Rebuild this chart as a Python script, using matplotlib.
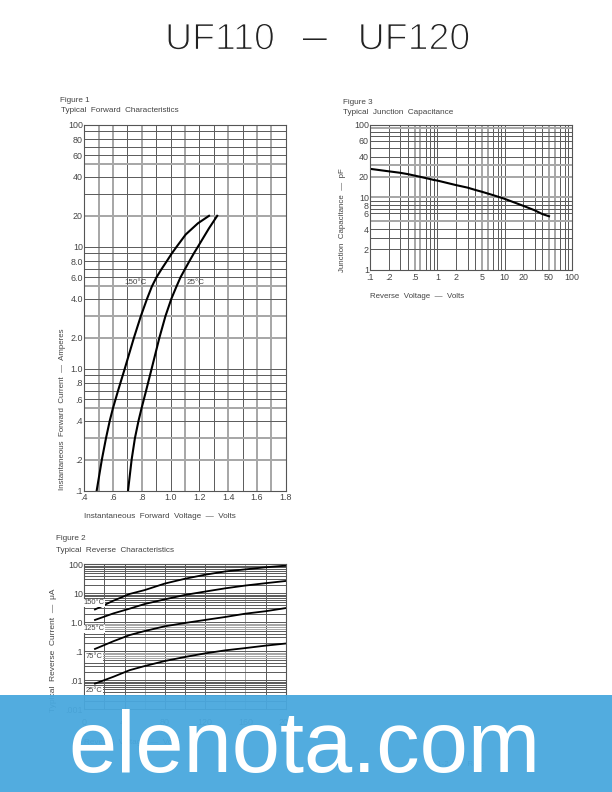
import matplotlib as mpl
mpl.use("Agg")

import numpy as np
import matplotlib.pyplot as plt
import matplotlib.patheffects as pe
from matplotlib.patches import Rectangle
from matplotlib.ticker import NullFormatter

W = 612.0
H = 792.0

# figure 1, forward characteristics
fwd_x_ticks = [.4, .6, .8, 1.0, 1.2, 1.4, 1.6, 1.8]
fwd_x_labels = ['.4', '.6', '.8', '1.0', '1.2', '1.4', '1.6', '1.8']
fwd_x_minor = [.5, .7, .9, 1.1, 1.3, 1.5, 1.7]
fwd_y_ticks = [.1, .2, .4, .6, .8, 1, 2, 4, 6, 8, 10, 20, 40, 60, 80, 100]
fwd_y_labels = ['.1', '.2', '.4', '.6', '.8', '1.0', '2.0', '4.0', '6.0', '8.0',
                '10', '20', '40', '60', '80', '100']
fwd_y_minor = [.3, .5, .7, .9, 3, 5, 7, 9, 30, 50, 70, 90]
# the printed log paper is not a true log, spacing of 1..10 inside a decade
fwd_decade = [0, .255, .432, .574, .676, .751, .818, .884, .948, 1]
cap_x_decade = [0, .279, .448, .562, .662, .746, .826, .896, .945, 1]
cap_y_decade = [0, .285, .44, .562, .68, .78, .84, .894, .95, 1]

v_150 = [.486, .522, .551, .577, .599, .634, .681, .745, .793, .836, .870, .902, .937,
         .974, 1.009, 1.041, 1.105, 1.19, 1.267]
i_150 = [.1, .2, .3, .4, .5, .7, 1, 2, 3, 4, 5, 6, 7, 8, 9, 10, 14, 17.6, 20]
v_25 = [.704, .729, .752, .777, .798, .829, .868, .922, .964, 1.005, 1.041, 1.069, 1.100,
        1.131, 1.162, 1.189, 1.267, 1.324]
i_25 = [.1, .2, .3, .4, .5, .7, 1, 2, 3, 4, 5, 6, 7, 8, 9, 10, 16, 20]

# figure 2, reverse characteristics
rev_x_ticks = [0, 40, 80, 120, 160, 200]
rev_x_minor = [20, 60, 100, 140, 180]
rev_y_ticks = [.001, .01, .1, 1, 10, 100]
rev_y_labels = ['.001', '.01', '.1', '1.0', '10', '100']
rev_v = [10.6, 29, 45, 60, 80, 100, 120, 140, 160, 180, 200]
rev_150 = [2.8, 5.6, 9.5, 13.7, 22, 32, 44, 57, 67, 79, 90]
rev_125 = [1.27, 2.04, 2.96, 4.3, 6.2, 8.8, 12, 15.7, 18.9, 22.7, 27]
rev_75 = [.127, .227, .366, .50, .73, .95, 1.27, 1.61, 1.99, 2.46, 3.1]
rev_25 = [.0077, .0141, .0227, .0312, .0465, .064, .085, .111, .137, .165, .189]

# figure 3, junction capacitance
cap_x_ticks = [.1, .2, .5, 1, 2, 5, 10, 20, 50, 100]
cap_x_labels = ['.1', '.2', '.5', '1', '2', '5', '10', '20', '50', '100']
cap_y_ticks = [1, 2, 4, 6, 8, 10, 20, 40, 60, 100]
cap_y_labels = ['1', '2', '4', '6', '8', '10', '20', '40', '60', '100']
cap_v = [.1, .2, .3, .4, .5, .6, .7, .8, .9, 1, 2, 3, 4, 5, 7, 10, 20, 30, 40, 50]
cap_c = [26.9, 24.7, 23.4, 22.2, 20.9, 19.9, 19.3, 18.8, 18.4, 18.1, 15.9, 14.7, 13.6, 12.7,
         11.1, 9.6, 7.8, 6.7, 5.9, 5.6]

plt.rcParams['font.family'] = ['Liberation Sans', 'DejaVu Sans']
TXT = '#444444'
GRID = '#5e5e5e'
LIGHT = '#a8a8a8'
SMALL = 5.9


def paper_scale(table):
    marks = np.arange(1, 11)

    def forward(v):
        v = np.clip(np.asarray(v, dtype=float), 1e-12, None)
        e = np.floor(np.log10(v))
        return e + np.interp(v / 10.0 ** e, marks, table)

    def inverse(p):
        p = np.asarray(p, dtype=float)
        e = np.floor(p)
        return np.interp(p - e, table, marks) * 10.0 ** e

    return forward, inverse


def decade_lines(low_exp, high_exp, skip=()):
    vals = []
    for e in range(low_exp, high_exp):
        for m in range(1, 10):
            v = round(float(m) * 10.0 ** e, 6)
            if v not in skip:
                vals.append(v)
    return vals


def make_axes(fig, left, top, right, bottom, x_table=None, y_table=None):
    ax = fig.add_axes([left / W, 1 - bottom / H, (right - left) / W, (bottom - top) / H])
    if x_table is not None:
        ax.set_xscale('function', functions=paper_scale(x_table))
    if y_table is not None:
        ax.set_yscale('function', functions=paper_scale(y_table))
    ax.set_axisbelow(True)
    ax.yaxis.set_minor_formatter(NullFormatter())
    ax.xaxis.set_minor_formatter(NullFormatter())
    for s in ax.spines.values():
        s.set_color('#555555')
        s.set_linewidth(0.8)
    return ax


def finish_grid(ax, light_x=(), light_y=(), x_pad=2.0, light_lw=1.44):
    ax.tick_params(which='both', length=0, colors=TXT, labelsize=6.4, pad=1)
    ax.tick_params(axis='x', pad=x_pad)
    ax.grid(True, which='both', color=GRID, lw=0.72)
    for axis, light in ((ax.xaxis, light_x), (ax.yaxis, light_y)):
        pairs = list(zip(axis.get_majorticklocs(), axis.get_major_ticks()))
        pairs += list(zip(axis.get_minorticklocs(), axis.get_minor_ticks()))
        for loc, tick in pairs:
            if np.any(np.isclose(loc, light, rtol=1e-4, atol=0)):
                tick.gridline.set_color(LIGHT)
                tick.gridline.set_linewidth(light_lw)


def px_text(fig, x, y, s, size=SMALL, **kw):
    kw.setdefault('va', 'center')
    kw.setdefault('color', TXT)
    return fig.text(x / W, 1 - y / H, s, fontsize=size, **kw)


fig = plt.figure(figsize=(6.12, 7.92), dpi=100)

for cx, part in ((220, 'UF110'), (414, 'UF120')):
    t = px_text(fig, cx, 39.5, part, size=27, ha='center', color='#222222')
    t.set_path_effects([pe.Stroke(linewidth=1.0, foreground='white')])
px_text(fig, 315, 39.5, '\u2014', size=17, ha='center', color='#222222')

# figure 1
ax1 = make_axes(fig, 84.3, 125, 285.7, 490.7, y_table=fwd_decade)
ax1.set_xlim(.4, 1.8)
ax1.set_ylim(.1, 100)
ax1.set_xticks(fwd_x_ticks)
ax1.set_xticklabels(fwd_x_labels)
ax1.set_xticks(fwd_x_minor, minor=True)
ax1.set_yticks(fwd_y_ticks)
ax1.set_yticklabels(fwd_y_labels)
ax1.set_yticks(fwd_y_minor, minor=True)
finish_grid(ax1, light_x=[.5, .6, .8, 1.1, 1.4, 1.6, 1.7],
            light_y=[.2, .3, .5, 2, 3, 5, 20, 50])
ax1.plot(v_150, i_150, color='black', lw=1.5)
ax1.plot(v_25, i_25, color='black', lw=1.5)
px_text(fig, 136, 283, '150\u00b0C', size=5.8, ha='center')
px_text(fig, 196, 283, '25\u00b0C', size=5.8, ha='center')
px_text(fig, 60, 101, 'Figure 1')
px_text(fig, 61, 110, 'Typical  Forward  Characteristics')
px_text(fig, 62, 409, 'Instantaneous  Forward  Current  \u2014  Amperes', size=5.7, rotation=90, ha='center')
px_text(fig, 84, 516, 'Instantaneous  Forward  Voltage  \u2014  Volts')

# figure 2
ax2 = make_axes(fig, 84.3, 564.3, 285.7, 709.3, y_table=list(np.log10(np.arange(1, 11))))
ax2.set_xlim(0, 200)
ax2.set_ylim(.001, 100)
ax2.set_xticks(rev_x_ticks)
ax2.set_xticks(rev_x_minor, minor=True)
ax2.set_yticks(rev_y_ticks)
ax2.set_yticklabels(rev_y_labels)
ax2.set_yticks(decade_lines(-3, 2, skip=rev_y_ticks), minor=True)
finish_grid(ax2, light_x=[60, 140, 160], light_y=[.06, .07, .08, .09, .6, .7, .8, .9],
            x_pad=6.4, light_lw=0.72)
for ser in (rev_150, rev_125, rev_75, rev_25):
    ax2.plot(rev_v, ser, color='black', lw=1.3)
box = dict(facecolor='white', edgecolor='none', pad=0.6)
px_text(fig, 94, 603, '150\u00b0C', size=5.4, ha='center', bbox=box)
px_text(fig, 94, 629, '125\u00b0C', size=5.4, ha='center', bbox=box)
px_text(fig, 94, 657, '75\u00b0C', size=5.4, ha='center', bbox=box)
px_text(fig, 94, 691, '25\u00b0C', size=5.4, ha='center', bbox=box)
px_text(fig, 56, 539, 'Figure 2')
px_text(fig, 56, 550, 'Typical  Reverse  Characteristics')
px_text(fig, 54, 650, 'Typical  Reverse  Current  \u2014  \u03bcA', size=6, rotation=90, ha='center')
px_text(fig, 84, 743, 'Reverse  Voltage  \u2014  Volts')
px_text(fig, 437, 765, '1-2-04   Rev.')

# figure 3
ax3 = make_axes(fig, 370.3, 124.7, 571.7, 270, x_table=cap_x_decade, y_table=cap_y_decade)
ax3.set_xlim(.1, 100)
ax3.set_ylim(1, 100)
ax3.set_xticks(cap_x_ticks)
ax3.set_xticklabels(cap_x_labels)
ax3.set_xticks(decade_lines(-1, 2, skip=cap_x_ticks), minor=True)
ax3.set_yticks(cap_y_ticks)
ax3.set_yticklabels(cap_y_labels)
ax3.set_yticks([3, 5, 7, 9, 30, 50, 70, 80, 90], minor=True)
finish_grid(ax3, light_x=[.5, .6, 5, 6, 50, 60], light_y=[5, 10, 20, 30, 90], x_pad=2.5)
ax3.plot(cap_v, cap_c, color='black', lw=1.5)
px_text(fig, 343, 102, 'Figure 3')
px_text(fig, 343, 113, 'Typical  Junction  Capacitance')
px_text(fig, 342, 220, 'Junction  Capacitance  \u2014  pF', size=5.7, rotation=90, ha='center')
px_text(fig, 369.5, 297, 'Reverse  Voltage  \u2014  Volts', size=5.7)

# watermark banner over the page
fig.add_artist(Rectangle((0, 0), 1, 97.4 / H, transform=fig.transFigure, facecolor='#49A8DE',
                         edgecolor='none', alpha=0.95, zorder=10))
px_text(fig, 304, 772, 'elenota.com', size=62.5, ha='center', va='baseline', color='white',
        zorder=11)

plt.savefig('out.png', dpi=100)
